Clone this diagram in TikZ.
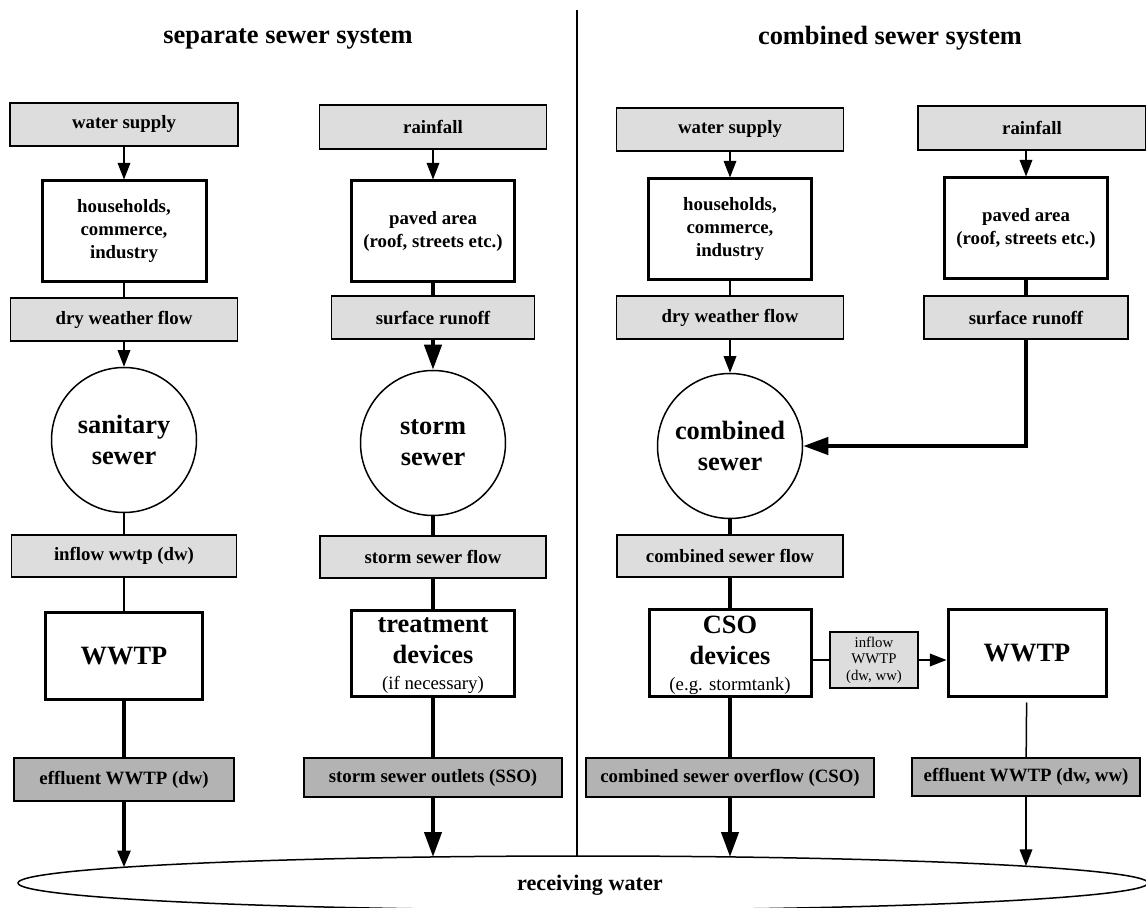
\documentclass[tikz,border=0pt]{standalone}
\usepackage{fontspec}
\setmainfont{Liberation Serif}
\usetikzlibrary{arrows.meta,shapes.geometric}
\definecolor{boxgray}{HTML}{DDDDDD}
\definecolor{outgray}{HTML}{B3B3B3}
\newcommand\boxfont{\fontsize{9.4}{11.5}\selectfont\bfseries}
\newcommand\bigfont{\fontsize{13.2}{15.6}\selectfont\bfseries}
\newcommand\notefont{\fontsize{9.4}{11}\selectfont\mdseries}
\newcommand\tinyfont{\fontsize{7.4}{8.3}\selectfont\mdseries}

\begin{document}
\begin{tikzpicture}[x=0.5pt,y=-0.5pt,
    flow/.style={draw,fill=boxgray,line width=.75pt,inner sep=0pt,font=\boxfont,minimum height=21.5pt},
    outlet/.style={flow,fill=outgray,minimum height=19.5pt},
    unit/.style={draw,fill=white,line width=1.5pt,inner sep=0pt,align=center,minimum height=50.5pt,minimum width=81.5pt,font=\boxfont},
    plant/.style={unit,minimum height=43pt,font=\bigfont,text depth=-4pt},
    sewer/.style={circle,draw,line width=.75pt,minimum size=72.5pt,inner sep=0pt,align=center,font=\bigfont},
    lean/.style={line width=.75pt},
    mid/.style={line width=1.7pt},
    fat/.style={line width=2.1pt},
    arr/.style={-{Triangle[width=6.3pt,length=8.3pt]}},
    bigarr/.style={-{Triangle[width=8.5pt,length=12.5pt]}}]
    \useasboundingbox (0,0) rectangle (1146,908);

    \node[font=\bigfont] (septitle) at (288,39) {separate sewer system};
    \node[font=\bigfont] (combtitle) at (890,38) {combined sewer system};

    % receiving water
    \node[ellipse,draw,line width=.75pt,minimum width=565pt,minimum height=27pt,inner sep=0pt,outer sep=0pt] (water) at (583,883) {};
    \node[font=\fontsize{11.1}{13}\selectfont\bfseries] (rcv) at (590,885) {receiving water};
    \coordinate (in1) at (124,867.3);
    \coordinate (in2) at (433,857);
    \coordinate (in3) at (730,857);
    \coordinate (in4) at (1026,866);
    \draw[lean] (577,10) -- (577,10 |- water.north);

    % separate system, sanitary branch
    \node[flow,minimum width=114pt] (ws1) at (124,124.5) {water supply};
    \node[unit,minimum width=82pt] (hh1) at (124,231.5) {households,\\commerce,\\industry};
    \node[flow,minimum width=113.5pt] (dwf1) at (124,319.5) {dry weather flow};
    \node[sewer] (san) at (124,440) {sanitary\\sewer};
    \node[flow,minimum width=112.5pt,minimum height=21pt] (inf1) at (124,556) {inflow wwtp (dw)};
    \node[plant,minimum width=78.5pt,text depth=0pt] (wwtp1) at (124,656) {WWTP};
    \node[outlet,minimum width=110pt,minimum height=21.5pt] (eff1) at (124,779.5) {effluent WWTP (dw)};

    % separate system, storm branch
    \node[flow,minimum width=113.5pt,minimum height=22pt] (rain2) at (433,127) {rainfall};
    \node[unit] (pav2) at (433,231.5) {paved area\\(roof, streets etc.)};
    \node[flow,minimum width=101.5pt] (sro2) at (433,317.5) {surface runoff};
    \node[sewer] (storm) at (433,443) {storm\\sewer};
    \node[flow,minimum width=113pt,minimum height=21pt] (ssf2) at (433,557) {storm sewer flow};
    \node[plant,minimum width=81.5pt] (treat) at (433,653.5) {treatment\\devices\\[-2.5pt]{\notefont (if necessary)}};
    \node[outlet,minimum width=129pt] (sso) at (433,777.5) {storm sewer outlets (SSO)};

    % combined system
    \node[flow,minimum width=113.5pt] (ws3) at (730,129.5) {water supply};
    \node[unit] (hh3) at (730,229.5) {households,\\commerce,\\industry};
    \node[flow,minimum width=113.5pt] (dwf3) at (730,317.5) {dry weather flow};
    \node[sewer] (comb) at (730,446) {combined\\sewer};
    \node[flow,minimum width=113pt,minimum height=21pt] (csf) at (730,556) {combined sewer flow};
    \node[plant,minimum width=81pt] (cso) at (730,653) {CSO\\devices\\[-2.5pt]{\notefont (e.g. stormtank)}};
    \node[outlet,minimum width=144pt] (csoout) at (730,777.5) {combined sewer overflow (CSO)};
    \node[flow,minimum width=44pt,minimum height=28pt,align=center,font=\tinyfont] (infw) at (874,660) {inflow\\WWTP\\(dw, ww)};
    \node[plant,minimum width=79pt,text depth=0pt] (wwtp3) at (1027,653) {WWTP};
    \node[outlet,minimum width=114pt,minimum height=19pt] (eff3) at (1026,777) {effluent WWTP (dw, ww)};

    \node[flow,minimum width=114pt,minimum height=22pt] (rain4) at (1032,128) {rainfall};
    \node[unit] (pav4) at (1026,228.5) {paved area\\(roof, streets etc.)};
    \node[flow,minimum width=102pt] (sro4) at (1026,317.5) {surface runoff};

    % connectors
    \draw[lean,arr] (ws1) -- (hh1);
    \draw[lean] (hh1) -- (dwf1);
    \draw[lean,arr] (dwf1) -- (san);
    \draw[lean] (san) -- (inf1) (inf1) -- (wwtp1);
    \draw[mid] (wwtp1) -- (eff1);
    \draw[mid,arr] (eff1) -- (in1);

    \draw[lean,arr] (rain2) -- (pav2);
    \draw[fat] (pav2) -- (sro2);
    \draw[fat,bigarr] (sro2) -- (storm);
    \draw[fat] (storm) -- (ssf2) (ssf2) -- (treat);
    \draw[mid] (treat) -- (sso);
    \draw[fat,bigarr] (sso) -- (in2);

    \draw[lean,arr] (ws3) -- (hh3);
    \draw[lean] (hh3) -- (dwf3);
    \draw[lean,arr] (dwf3) -- (comb);
    \draw[fat] (comb) -- (csf) (csf) -- (cso) (cso) -- (csoout);
    \draw[fat,bigarr] (csoout) -- (in3);
    \draw[lean] (cso.east |- infw) -- (infw);
    \draw[lean,arr] (infw) -- (infw -| wwtp3.west);
    \draw[lean,shorten <=2.5pt] (wwtp3) -- (eff3);
    \draw[lean,arr] (eff3) -- (in4);

    \draw[lean,arr] (rain4.south -| pav4) -- (pav4);
    \draw[fat] (pav4) -- (sro4);
    \draw[fat,bigarr] (sro4.south) |- (comb);
\end{tikzpicture}
\end{document}
